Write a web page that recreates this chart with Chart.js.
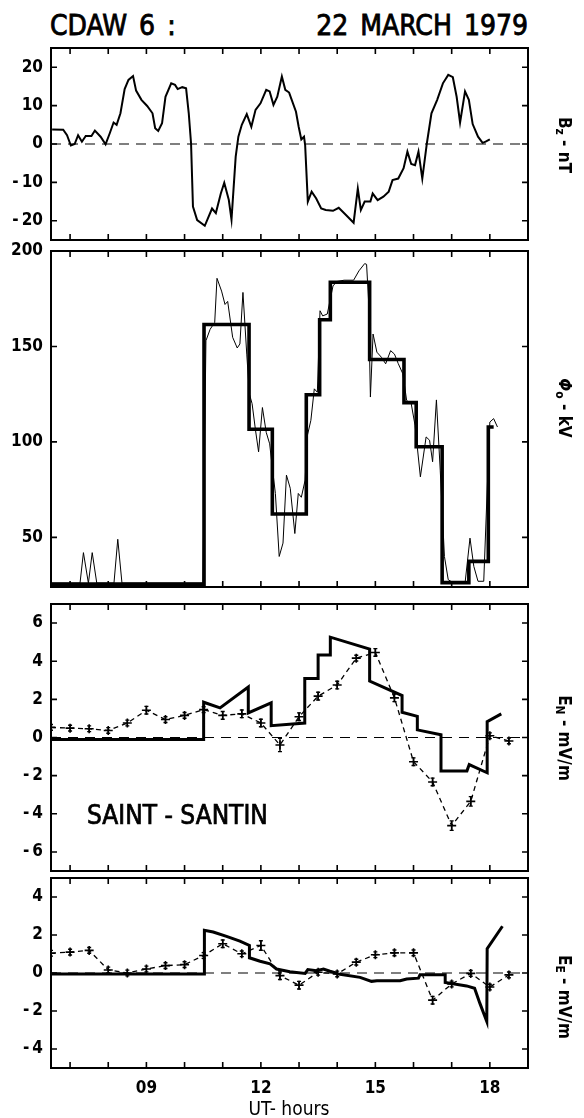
<!DOCTYPE html>
<html><head><meta charset="utf-8">
<script src="https://cdn.jsdelivr.net/npm/chart.js@4/dist/chart.umd.min.js"></script>
<style>
html,body{margin:0;padding:0;background:#fff;}
body{width:584px;height:1118px;position:relative;overflow:hidden;font-family:"DejaVu Sans Condensed","DejaVu Sans",sans-serif;color:#000;}
canvas{position:absolute;left:0;}
.t{position:absolute;white-space:nowrap;line-height:1;}
.ttl{font-size:28px;-webkit-text-stroke:0.8px #000;word-spacing:4px;top:12px;}
.rl{position:absolute;white-space:nowrap;font-size:17px;font-weight:bold;line-height:1;left:563px;transform:translate(-50%,-50%) rotate(90deg);}
.rl sub{font-size:70%;vertical-align:-3px;}
</style></head><body>
<div class="t ttl" style="left:50px;">CDAW 6 :</div>
<div class="t ttl" style="right:56px;">22 MARCH 1979</div>
<canvas id="c1"></canvas>
<canvas id="c2"></canvas>
<canvas id="c3"></canvas>
<canvas id="c4"></canvas>
<div class="rl" style="top:145px">B<sub>z</sub> - nT</div>
<div class="rl" style="top:408px"><i>Φ</i><sub>o</sub> - kV</div>
<div class="rl" style="top:738px">E<sub>N</sub> - mV/m</div>
<div class="rl" style="top:997px">E<sub>E</sub> - mV/m</div>
<div class="t" style="left:87px;top:802px;font-size:26px;-webkit-text-stroke:0.7px #000;">SAINT - SANTIN</div>
<div class="t" style="left:289px;top:1099px;font-size:19px;transform:translateX(-50%)">UT- hours</div>
<script>
// ---- axes ----
const xMin = 6.5, xMax = 19.0;
const xTickHours = [7,8,9,10,11,12,13,14,15,16,17,18];
const xLabelHours = [9,12,15,18];
const bzTicks = [-20,-10,0,10,20];
const phiTicks = [50,100,150,200];
const enTicks = [-6,-4,-2,0,2,4,6];
const eeTicks = [-4,-2,0,2,4];
const zeroLineHours = [6.5,19.0];
const zeroLineValues = [0,0];

// ---- Bz (nT) ----
const bzHours = [6.53,6.82,6.92,7.02,7.12,7.21,7.31,7.41,7.56,7.65,7.80,7.93,8.04,8.14,8.22,8.32,8.43,8.53,8.65,8.73,8.87,9.02,9.16,9.23,9.31,9.41,9.50,9.65,9.75,9.82,9.94,10.04,10.11,10.17,10.22,10.33,10.53,10.72,10.82,10.95,11.04,11.16,11.23,11.34,11.41,11.50,11.63,11.75,11.86,11.99,12.14,12.23,12.33,12.43,12.55,12.64,12.74,12.92,12.99,13.06,13.13,13.16,13.23,13.33,13.45,13.58,13.70,13.89,14.04,14.23,14.43,14.54,14.62,14.72,14.87,14.93,15.06,15.21,15.35,15.45,15.60,15.74,15.84,15.94,16.04,16.13,16.23,16.35,16.47,16.62,16.77,16.91,17.03,17.13,17.22,17.35,17.45,17.55,17.69,17.81,17.89,18.00];
const bzValues = [3.8,3.7,2.3,-0.4,0,2.3,0.6,2.1,2.1,3.5,1.9,-0.1,2.8,5.6,5,8,14.3,16.7,17.7,13.9,11.5,9.9,8,4.1,3.4,5.4,12.3,15.8,15.4,14.3,14.8,14.5,8,0.2,-16.3,-19.8,-21.3,-16.8,-18,-12.9,-10.1,-14.6,-19.7,-3.3,1.9,5,7.8,4.5,8.9,10.6,14.1,13.7,10.2,12.3,17.6,14.1,13.4,8.4,4.5,1.2,1.9,-0.3,-15,-12.4,-14.2,-16.8,-17.2,-17.4,-16.6,-18.5,-20.5,-11.6,-17.2,-15,-15,-12.9,-14.6,-13.7,-12.4,-9.4,-9,-6.3,-2,-5.2,-5.5,-2,-9,0.2,8,11.5,15.8,18,17.4,12.3,5.6,13.7,11.5,5.2,1.9,0.3,0.6,1.2];

// ---- Phi0 (kV) ----
const phiRawHours = [6.5,7.26,7.35,7.48,7.58,7.70,8.15,8.25,8.36,10.48,10.56,10.67,10.79,10.85,10.97,11.06,11.13,11.26,11.38,11.45,11.53,11.63,11.70,11.77,11.86,11.94,12.04,12.14,12.23,12.28,12.38,12.48,12.58,12.67,12.77,12.89,12.98,13.06,13.16,13.21,13.31,13.40,13.48,13.55,13.62,13.74,13.89,13.99,14.18,14.43,14.57,14.72,14.77,14.82,14.87,14.94,15.04,15.16,15.27,15.40,15.50,15.60,15.72,15.82,15.94,16.04,16.18,16.33,16.42,16.50,16.60,16.70,16.81,16.91,17.06,17.35,17.48,17.58,17.69,17.84,17.94,18.00,18.10,18.20];
const phiRawValues = [26,26,42,26,42,26,26,49,26,26,153,159,162.6,185.7,179,172,173.6,154.8,149.2,151.3,178.3,146,125,120,106,94.8,118,105,99,90,73,40,47,82.6,75.7,52,73,71,80,102.6,111.3,127.8,126,168.7,166,167,181.7,184,184.7,184.7,189.6,193.4,193,174.8,123.5,156.5,147,144.3,140.9,147.8,146,141,135.7,121.7,120,108.7,81.7,102.6,100.9,89.6,122,85.2,40,27.8,26,26,49.6,34.8,27,27,80,110.4,112.2,107.8];
const phiStepHours = [6.5,10.51,11.69,12.30,13.19,13.54,13.82,14.85,15.75,16.07,16.75,17.45,17.96,18.10];
const phiStepValues = [25.5,161.5,106.6,62.2,124.7,164,183.6,143.2,120.6,97.5,26.3,37.4,107.8,107.8];

// ---- E_N (mV/m) ----
const enModelHours = [6.5,10.50,10.50,10.93,11.67,11.67,12.27,12.27,13.15,13.15,13.50,13.50,13.82,13.82,14.85,14.85,15.70,15.70,16.10,16.10,16.72,16.72,17.40,17.46,17.93,17.93,18.30];
const enModelValues = [-0.1,-0.1,1.85,1.55,2.65,1.29,1.82,0.62,0.76,3.09,3.09,4.32,4.32,5.26,4.64,2.96,2.2,1.32,1.11,0.4,0.14,-1.75,-1.75,-1.42,-1.85,0.83,1.24];
const obsHours = [6.5,7,7.5,8,8.5,9,9.5,10,10.5,11,11.5,12,12.5,13,13.5,14,14.5,15,15.5,16,16.5,17,17.5,18,18.5];
const enObsValues = [0.53,0.49,0.46,0.37,0.76,1.43,0.94,1.16,1.46,1.16,1.24,0.76,-0.39,1.09,2.17,2.75,4.16,4.46,2.08,-1.27,-2.33,-4.62,-3.35,0.09,-0.18];
const enObsErr = [0.15,0.15,0.15,0.15,0.15,0.2,0.15,0.15,0.15,0.2,0.2,0.2,0.35,0.2,0.2,0.2,0.15,0.2,0.2,0.2,0.2,0.25,0.25,0.15,0.15];

// ---- E_E (mV/m) ----
const eeModelHours = [6.5,10.52,10.52,10.75,11.10,11.45,11.70,11.70,11.98,12.24,12.41,12.76,13.16,13.23,13.46,13.64,13.81,13.90,14.03,14.60,14.90,15.04,15.65,15.82,16.13,16.17,16.83,16.83,17.39,17.60,17.74,17.92,17.93,18.33];
const eeModelValues = [-0.05,-0.05,2.25,2.16,1.93,1.68,1.45,0.8,0.62,0.48,0.21,0.07,-0.02,0.18,0.12,0.21,0.09,0.04,-0.05,-0.23,-0.44,-0.41,-0.41,-0.32,-0.27,-0.09,-0.09,-0.5,-0.68,-0.8,-1.6,-2.55,1.28,2.46];
const eeObsValues = [1.04,1.1,1.19,0.16,0,0.21,0.39,0.44,0.92,1.54,1.01,1.45,-0.14,-0.64,0.04,-0.05,0.57,0.96,1.06,1.06,-1.43,-0.58,-0.02,-0.74,-0.1];
const eeObsErr = [0.15,0.15,0.15,0.15,0.15,0.15,0.15,0.15,0.15,0.2,0.15,0.25,0.2,0.2,0.15,0.15,0.15,0.15,0.15,0.15,0.2,0.15,0.15,0.15,0.15];

// ---- helpers ----
const pts = (xs, ys) => xs.map((x, i) => ({x, y: ys[i]}));
const FONT = '"DejaVu Sans Condensed","DejaVu Sans",sans-serif';
const W = 584, LEFT = 51, RIGHT = 528, PAD = 24;

function zeroDs() {
  return {data: pts(zeroLineHours, zeroLineValues), borderColor: '#000', borderWidth: 1.2, borderDash: [10, 7], pointRadius: 0, order: 5};
}
function solidDs(xs, ys, w, extra) {
  return Object.assign({data: pts(xs, ys), borderColor: '#000', borderWidth: w, pointRadius: 0, tension: 0, fill: false}, extra || {});
}
function obsDs(xs, ys, err) {
  return {data: pts(xs, ys), errBars: err, borderColor: '#000', borderWidth: 1.3, borderDash: [5, 4],
    pointStyle: 'cross', pointRadius: 4.5, pointBorderWidth: 1.6, pointBorderColor: '#000', pointBackgroundColor: '#000'};
}
const fmtY = v => (v < 0 ? '-\u2009' + Math.abs(v) : String(v));

const framePlugin = {
  id: 'frame',
  afterDatasetsDraw(chart) {
    const {ctx, chartArea: a, scales: {x, y}} = chart;
    const yt = chart.options.plugins.frame.yTicks;
    ctx.save();
    chart.data.datasets.forEach((ds, i) => {
      if (!ds.errBars) return;
      const meta = chart.getDatasetMeta(i);
      ctx.save();
      ctx.beginPath(); ctx.rect(a.left, a.top, a.right - a.left, a.bottom - a.top); ctx.clip();
      ctx.strokeStyle = '#000'; ctx.lineWidth = 1.4; ctx.setLineDash([]);
      ctx.beginPath();
      ds.data.forEach((p, j) => {
        const px = meta.data[j].x;
        const y1 = y.getPixelForValue(p.y + ds.errBars[j]);
        const y2 = y.getPixelForValue(p.y - ds.errBars[j]);
        ctx.moveTo(px, y1); ctx.lineTo(px, y2);
        ctx.moveTo(px - 2, y1); ctx.lineTo(px + 2, y1);
        ctx.moveTo(px - 2, y2); ctx.lineTo(px + 2, y2);
      });
      ctx.stroke();
      ctx.restore();
    });
    ctx.strokeStyle = '#000';
    ctx.setLineDash([]);
    ctx.lineWidth = 2;
    ctx.strokeRect(a.left, a.top, a.right - a.left, a.bottom - a.top);
    ctx.lineWidth = 1.6;
    ctx.beginPath();
    xTickHours.forEach(h => {
      const px = x.getPixelForValue(h);
      ctx.moveTo(px, a.top); ctx.lineTo(px, a.top + 6);
      ctx.moveTo(px, a.bottom); ctx.lineTo(px, a.bottom - 6);
    });
    yt.forEach(v => {
      const py = y.getPixelForValue(v);
      ctx.moveTo(a.left, py); ctx.lineTo(a.left + 6, py);
      ctx.moveTo(a.right, py); ctx.lineTo(a.right - 6, py);
    });
    ctx.stroke();
    ctx.restore();
  }
};

function panel(id, top, bottom, yMin, yMax, yTicks, datasets, showX) {
  const cv = document.getElementById(id);
  const xAxisH = 36;
  const cTop = top - PAD;
  const h = bottom - top + PAD + (showX ? xAxisH : PAD);
  cv.width = W; cv.height = h;
  cv.style.top = cTop + 'px'; cv.style.width = W + 'px'; cv.style.height = h + 'px';
  return new Chart(cv, {
    type: 'line',
    data: {datasets},
    options: {
      responsive: false, animation: false, devicePixelRatio: 1,
      layout: {padding: {left: 0, right: W - RIGHT, top: PAD, bottom: showX ? 0 : PAD}},
      plugins: {legend: {display: false}, tooltip: {enabled: false}, frame: {yTicks}},
      scales: {
        x: {
          type: 'linear', min: xMin, max: xMax, display: showX,
          grid: {display: false, drawTicks: false}, border: {display: false},
          afterBuildTicks: s => { s.ticks = xLabelHours.map(v => ({value: v})); },
          afterFit: s => { if (showX) s.height = xAxisH; },
          ticks: {autoSkip: false, maxRotation: 0, padding: 10, color: '#000',
            font: {family: FONT, size: 17, weight: 'bold'},
            callback: v => String(v).padStart(2, '0')}
        },
        y: {
          type: 'linear', min: yMin, max: yMax,
          grid: {display: false, drawTicks: false}, border: {display: false},
          afterBuildTicks: s => { s.ticks = yTicks.map(v => ({value: v})); },
          afterFit: s => { s.width = LEFT; },
          ticks: {autoSkip: false, padding: 8, color: '#000',
            font: {family: FONT, size: 17, weight: 'bold'},
            callback: fmtY}
        }
      }
    },
    plugins: [framePlugin]
  });
}

panel('c1', 48, 240, -25, 25, bzTicks, [
  solidDs(bzHours, bzValues, 2.0),
  zeroDs()
], false);

panel('c2', 251, 587, 24, 200, phiTicks, [
  solidDs(phiStepHours, phiStepValues, 3.6, {stepped: 'before'}),
  solidDs(phiRawHours, phiRawValues, 1.0)
], false);

panel('c3', 604, 871, -7, 7, enTicks, [
  solidDs(enModelHours, enModelValues, 3.0),
  obsDs(obsHours, enObsValues, enObsErr),
  zeroDs()
], false);

panel('c4', 878, 1068, -5, 5, eeTicks, [
  solidDs(eeModelHours, eeModelValues, 3.0),
  obsDs(obsHours, eeObsValues, eeObsErr),
  zeroDs()
], true);
</script>
</body></html>
